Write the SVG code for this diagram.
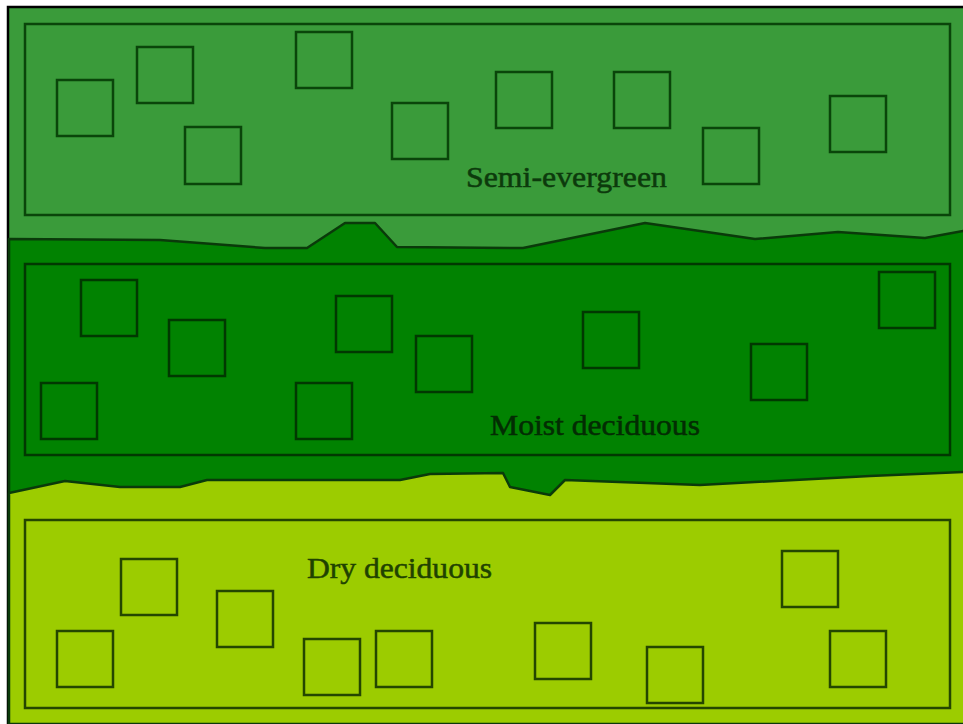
<svg xmlns="http://www.w3.org/2000/svg" width="963" height="724" viewBox="0 0 963 724">
  <style>
    .band { stroke: #0a3a0a; stroke-width: 2.5; stroke-linejoin: round; }
    .frame { fill: none; stroke-width: 2.5; }
    .sq { fill: none; stroke-width: 2.5; }
    .t1 .sq, .t1 .frame { stroke: #0a450a; }
    .t2 .sq, .t2 .frame { stroke: #013801; }
    .t3 .sq, .t3 .frame { stroke: #244600; }
    .lbl { font-family: "Liberation Serif", "Times New Roman", serif; font-size: 30px; stroke-width: 0.5; }
  </style>
  <rect x="0" y="0" width="963" height="724" fill="#ffffff"/>
  <rect x="8" y="7" width="960" height="720" fill="#3a9b3a"/>
  <path d="M8,724 V7 H963" fill="none" stroke="#000000" stroke-width="2.5"/>

  <g id="bands">
    <path class="band" fill="#018201" d="M9,239 L160,240 L265,248 L307,248 L345,223 L375,223 L397,247 L523,248 L645,223 L755,239 L838,232 L925,238 L963,231 L966,231 L966,724 L9,724 Z"/>
    <path class="band" fill="#9ccc00" d="M9,493 L65,481 L120,487 L180,487 L207,480 L400,480 L430,474 L503,473 L510,487 L550,495 L565,480 L700,485 L870,476 L963,472 L966,472 L966,724 L9,724 Z"/>
  </g>

  <g id="semi-evergreen" class="t1">
    <rect class="frame" x="25" y="24" width="925" height="191"/>
    <rect class="sq" x="57" y="80" width="56" height="56"/>
    <rect class="sq" x="137" y="47" width="56" height="56"/>
    <rect class="sq" x="185" y="127" width="56" height="57"/>
    <rect class="sq" x="296" y="32" width="56" height="56"/>
    <rect class="sq" x="392" y="103" width="56" height="56"/>
    <rect class="sq" x="496" y="72" width="56" height="56"/>
    <rect class="sq" x="614" y="72" width="56" height="56"/>
    <rect class="sq" x="703" y="128" width="56" height="56"/>
    <rect class="sq" x="830" y="96" width="56" height="56"/>
    <text class="lbl" x="466" y="187" textLength="201" lengthAdjust="spacingAndGlyphs" fill="#0c3a0c" stroke="#0c3a0c">Semi-evergreen</text>
  </g>

  <g id="moist-deciduous" class="t2">
    <rect class="frame" x="25" y="264" width="925" height="191"/>
    <rect class="sq" x="81" y="280" width="56" height="56"/>
    <rect class="sq" x="169" y="320" width="56" height="56"/>
    <rect class="sq" x="336" y="296" width="56" height="56"/>
    <rect class="sq" x="416" y="336" width="56" height="56"/>
    <rect class="sq" x="583" y="312" width="56" height="56"/>
    <rect class="sq" x="751" y="344" width="56" height="56"/>
    <rect class="sq" x="879" y="272" width="56" height="56"/>
    <rect class="sq" x="41" y="383" width="56" height="56"/>
    <rect class="sq" x="296" y="383" width="56" height="56"/>
    <text class="lbl" x="490" y="435" textLength="210" lengthAdjust="spacingAndGlyphs" fill="#032c03" stroke="#032c03">Moist deciduous</text>
  </g>

  <g id="dry-deciduous" class="t3">
    <rect class="frame" x="25" y="520" width="925" height="188"/>
    <rect class="sq" x="121" y="559" width="56" height="56"/>
    <rect class="sq" x="217" y="591" width="56" height="56"/>
    <rect class="sq" x="57" y="631" width="56" height="56"/>
    <rect class="sq" x="304" y="639" width="56" height="56"/>
    <rect class="sq" x="376" y="631" width="56" height="56"/>
    <rect class="sq" x="535" y="623" width="56" height="56"/>
    <rect class="sq" x="647" y="647" width="56" height="56"/>
    <rect class="sq" x="782" y="551" width="56" height="56"/>
    <rect class="sq" x="830" y="631" width="56" height="56"/>
    <text class="lbl" x="307" y="578" textLength="185" lengthAdjust="spacingAndGlyphs" fill="#1f4200" stroke="#1f4200">Dry deciduous</text>
  </g>
</svg>
